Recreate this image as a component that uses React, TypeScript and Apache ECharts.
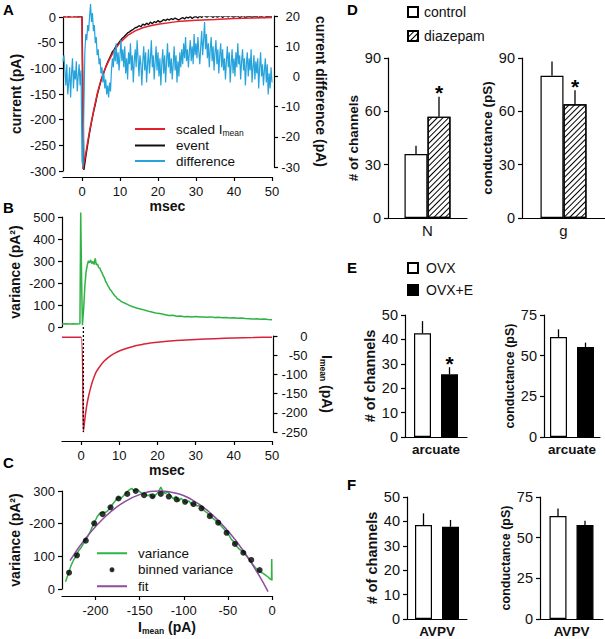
import React, { useEffect, useRef } from 'react';
import * as echarts from 'echarts';

const FONT = '"Liberation Sans", Arial, Helvetica, sans-serif';
const INK = '#111';

// ---------- Panel A ----------
const aTimeTicks = [0, 10, 20, 30, 40, 50];
const aScaledImean: number[][] = [
  [-5, 0], [0, 0], [0.25, -296], [1, -265], [1.5, -243], [2, -222], [2.5, -203], [3, -185], [3.5, -167],
  [4, -150], [4.5, -136], [5, -123], [6, -102], [7, -86], [8, -72], [9, -60], [10, -50], [12, -36],
  [14, -27], [16, -21], [18, -17], [20, -14], [25, -9], [30, -6.5], [35, -5], [40, -3], [45, -2], [50, -1],
];
const aEventStart = -5;
const aEventStep = 0.5;
const aEventValues = [
  3, 1, 4, 0, 2, 5, 1, 3, 0, 2,
  1, -298, -272, -248, -225, -205, -186, -170, -152, -138, -124, -113, -103, -92, -84, -76, -68, -63, -56, -52,
  -47, -42, -39, -35, -31, -29, -26, -24, -21, -20,
  -17, -19, -14, -16, -12, -15, -10, -13, -9, -11, -7, -10, -8, -5, -7, -4, -6, -3, -5, -2,
  -4, -6, -3, -1, -4, 0, -2, 1, -3, 0, 1, -2, 2, -1, 4, 1, 0, 3, 2, -1,
  3, 0, 1, 3, -1, 2, 2, 0, 3, 1, 0, 2, 2, -1, 1, 3, -1, 1, 2, 0,
  0, 2, 1, -1, 2, 0, -1, 1, 1, 0, 1,
];
const aDiffStart = -5;
const aDiffStep = 0.25;
const aDifferenceValues = [
  5, 7, 2, -3, 4, -6, -2, 3, -7, 1, 6, -4, 2, -1, 5, -5, 0, 4, -3, 2,
  -28, -30, -10, 8, 14, 12, 17, 15, 20, 24, 18, 21, 15, 17, 11, 13, 7, 9, 4, 6, 1, 3, -2, 1,
  -4, -1, -6, -3, -7, -2, -5, 2, 6, 3, 9, 5, 11, 4, 8, 2, 7, 12, 5, 9,
  3, 10, 1, 6, -1, 8, 4, 11, 2, 7, -2, 5, 9, 3, 12, 6, 0, 7, 4, -3,
  5, 10, 2, 8, -2, 4, 9, 1, 6, 12, 3, 7, -1, 5, 10, 2, 8, 0, 6, -3,
  4, 9, 1, 7, -2, 5, 11, 3, 8, 1, 6, -1, 4, 10, 2, 7, -2, 5, 0, 8,
  3, 9, 4, 11, 6, 13, 5, 9, 3, 8, 12, 5, 10, 4, 14, 7, 11, 6, 13, 8,
  4, 10, 15, 7, 12, 18, 9, 14, 6, 11, 3, 9, 13, 5, 10, 2, 8, 12, 4, 9,
  1, 7, 11, 3, 9, 2, 6, -1, 5, 10, 3, 8, -2, 4, 9, 1, 6, 0, 8, 3,
  11, 4, 7, -1, 5, 9, 2, 6, -3, 4, 8, 0, 6, 2, 9, -2, 3, 7, -1, 5,
  1, 6, -4, 3, 8, 0, 4, -3, 2, 6, -2, 4, -6, 1, -4, 3, -2,
];

// ---------- Panel B ----------
const bTimeTicks = [0, 10, 20, 30, 40, 50];
const bVarianceTickLabels = ['0', '100', '-200', '300', '400', '500'];
const bVariance: number[][] = [
  [-5, 14], [-4, 15], [-3, 14], [-2, 15], [-1, 14], [-0.3, 15], [-0.1, 520], [0.15, 200], [0.35, 8],
  [0.7, 90], [1.0, 190], [1.3, 250], [1.6, 280], [1.9, 300], [2.2, 292], [2.5, 305], [2.8, 288],
  [3.1, 298], [3.4, 284], [3.7, 312], [4.0, 282], [4.3, 286], [4.6, 270], [4.9, 268], [5.2, 255],
  [5.5, 246], [5.8, 232], [6.1, 224], [6.4, 208], [6.7, 200], [7.0, 188], [7.3, 180], [7.6, 170],
  [7.9, 165], [8.2, 156], [8.5, 150], [8.8, 142], [9.1, 138], [9.4, 130], [9.7, 126], [10, 124],
  [10.5, 116], [11, 112], [11.5, 108], [12, 104], [12.5, 99], [13, 96], [13.5, 92], [14, 90],
  [14.5, 86], [15, 84], [16, 80], [17, 75], [18, 70], [19, 66], [20, 62], [21, 60], [22, 56],
  [23, 52], [24, 53], [25, 49], [26, 50], [27, 47], [28, 48], [29, 46], [30, 48], [31, 45],
  [32, 46], [33, 44], [34, 46], [35, 43], [36, 44], [37, 42], [38, 43], [39, 41], [40, 42],
  [41, 40], [42, 41], [43, 39], [44, 38], [45, 36], [46, 37], [47, 35], [48, 36], [49, 34], [50, 33],
];
const bImean: number[][] = [
  [-5, -3], [0, -3], [0.6, -250], [1, -215], [1.5, -180], [2, -155], [2.5, -135], [3, -118],
  [3.5, -104], [4, -93], [5, -78], [6, -66], [7, -57], [8, -50], [9, -44], [10, -39], [12, -32],
  [14, -26], [16, -22], [18, -18], [20, -16], [25, -12], [30, -9], [35, -7], [40, -5], [45, -4], [50, -3],
];
const bDashTime = 0.6;
const bImeanMin = -250;

// ---------- Panel C ----------
const cCurrentTicks = [-200, -150, -100, -50, 0];
const cVarianceTickLabels = ['0', '100', '-200', '300'];
const cVariance: number[][] = [
  [-234, 22], [-231, 45], [-228, 70], [-225, 88], [-222, 102], [-219, 118], [-216, 128], [-213, 142],
  [-210, 155], [-207, 170], [-204, 188], [-201, 205], [-198, 222], [-195, 232], [-192, 236], [-189, 234],
  [-186, 240], [-183, 252], [-180, 262], [-177, 272], [-174, 280], [-171, 278], [-168, 286], [-165, 296],
  [-162, 303], [-159, 308], [-156, 300], [-153, 306], [-150, 298], [-147, 292], [-144, 296], [-141, 285],
  [-138, 290], [-135, 280], [-132, 288], [-129, 296], [-126, 312], [-124, 300], [-121, 292], [-118, 298],
  [-115, 286], [-112, 276], [-109, 284], [-106, 268], [-103, 278], [-100, 270], [-97, 264], [-94, 270],
  [-91, 258], [-88, 262], [-85, 254], [-82, 256], [-79, 246], [-76, 238], [-73, 232], [-70, 224],
  [-67, 216], [-64, 210], [-61, 202], [-58, 194], [-55, 185], [-52, 176], [-49, 166], [-46, 152],
  [-43, 144], [-40, 130], [-37, 122], [-34, 116], [-31, 108], [-28, 98], [-25, 88], [-22, 76],
  [-19, 66], [-16, 58], [-13, 52], [-10, 48], [-7, 42], [-4, 36], [-2, 30], [-0.6, 28], [-0.3, 92], [0, 26],
];
const cBinned: number[][] = [
  [-230, 50], [-221, 103], [-211, 148], [-201.5, 201], [-192, 229], [-183, 250], [-174, 277], [-164, 291],
  [-154.5, 300], [-145, 287], [-135.5, 284], [-126, 291], [-117, 283], [-108, 274], [-98.5, 267],
  [-89, 260], [-80, 247], [-70.5, 223], [-61, 203], [-51.5, 172], [-42, 138], [-32.5, 111], [-23.5, 89], [-14, 58],
];
const cFit: number[][] = [
  [-229, 87], [-210, 159], [-190, 219], [-170, 262], [-150, 289], [-127, 300], [-110, 294],
  [-90, 272], [-70, 233], [-50, 178], [-30, 107], [-15, 43], [-4.5, -8],
];

// ---------- Panel D ----------
const dCategoryN = ['N'];
const dCategoryG = ['g'];
const dControlMean = [36, 80];
const dControlSem = [4.7, 8];
const dDiazepamMean = [57, 64];
const dDiazepamSem = [11.2, 7.9];
const dDiazepamSig = [true, true];

// ---------- Panels E, F ----------
const eCategory = ['arcuate'];
const fCategory = ['AVPV'];
const eOvxMean = [42.5, 61.5];
const eOvxSem = [5, 4.7];
const eOvxEMean = [25.7, 55.3];
const eOvxESem = [2.9, 2.7];
const eOvxESig = [true, false];
const fOvxMean = [38.5, 63.3];
const fOvxSem = [4.8, 4.7];
const fOvxEMean = [37.8, 57.8];
const fOvxESem = [2.8, 2.6];
const fOvxESig = [false, false];

const lineStyle = { color: '#000', width: 1.2 };

function valueAxis(extra: any) {
  return {
    type: 'value',
    axisLine: { show: true, onZero: false, lineStyle },
    axisTick: { show: true, length: 4, lineStyle },
    splitLine: { show: false },
    axisLabel: { color: INK, fontSize: 13, fontFamily: FONT, margin: 7 },
    nameTextStyle: { color: INK, fontSize: 14, fontWeight: 'bold', fontFamily: FONT },
    nameLocation: 'middle',
    ...extra,
  };
}

function catAxis(gridIndex: number, data: string[], fontSize: number, bold: boolean) {
  return {
    gridIndex,
    type: 'category',
    data,
    axisLine: { show: true, lineStyle },
    axisTick: { show: false },
    splitLine: { show: false },
    axisLabel: { color: INK, fontSize, fontFamily: FONT, fontWeight: bold ? 'bold' : 'normal', margin: 5 },
  };
}

function barYAxis(gridIndex: number, max: number, interval: number, name: string, nameGap: number, nameSize: number) {
  return valueAxis({
    gridIndex,
    min: 0,
    max,
    interval,
    name,
    nameRotate: 90,
    nameGap,
    axisLabel: { color: INK, fontSize: 14.5, fontFamily: FONT, margin: 7 },
    nameTextStyle: { color: INK, fontSize: nameSize, fontWeight: 'bold', fontFamily: FONT },
  });
}

function errorSeries(axisIndex: number, means: number[], sems: number[], sig: boolean[], idx: number, offset: number) {
  return {
    type: 'custom',
    xAxisIndex: axisIndex,
    yAxisIndex: axisIndex,
    z: 5,
    silent: true,
    data: [[0, means[idx], sems[idx], sig[idx] ? 1 : 0]],
    encode: { x: 0, y: 1 },
    renderItem: (params: any, api: any) => {
      const base = api.coord([api.value(0), api.value(1)]);
      const top = api.coord([api.value(0), api.value(1) + api.value(2)]);
      const cx = base[0] + offset;
      const children: any[] = [
        { type: 'line', shape: { x1: cx, y1: base[1], x2: cx, y2: top[1] }, style: { stroke: '#000', lineWidth: 1.3 } },
      ];
      if (api.value(3)) {
        children.push({
          type: 'text',
          x: cx,
          y: top[1] - 4,
          style: { text: '*', fontSize: 21, fontWeight: 'bold', fontFamily: FONT, fill: '#000', align: 'center', verticalAlign: 'middle' },
        });
      }
      return { type: 'group', children };
    },
  };
}

function buildOption() {
  const whiteBar = { color: '#fff', borderColor: '#000', borderWidth: 1.2 };
  const blackBar = { color: '#000', borderColor: '#000', borderWidth: 1.2 };
  const hatchBar = {
    color: '#fff',
    borderColor: '#000',
    borderWidth: 1.2,
    decal: {
      symbol: 'rect',
      symbolSize: 1,
      dashArrayX: [1, 0],
      dashArrayY: [1, 3],
      rotation: -Math.PI / 4,
      color: '#000',
    },
  };
  const dW = 23;
  const efW = 17;
  const efGap = 10;

  const letters = [
    ['A', 3, 2], ['B', 3, 200], ['C', 3, 455], ['D', 347, 2], ['E', 347, 260], ['F', 347, 477],
  ].map(([t, x, y]) => ({
    type: 'text',
    id: 'letter' + t,
    x,
    y,
    style: { text: t, fontSize: 15, fontWeight: 'bold', fontFamily: FONT, fill: '#000', verticalAlign: 'top' },
  }));

  const subRich = {
    t: { fontSize: 13.5, fontFamily: FONT, color: INK, lineHeight: 16 },
    s: { fontSize: 8.5, fontFamily: FONT, color: INK, padding: [7, 0, 0, 0] },
  };
  const nameRich = {
    b: { fontSize: 14, fontWeight: 'bold', fontFamily: FONT, color: INK },
    s: { fontSize: 8.5, fontWeight: 'bold', fontFamily: FONT, color: INK, padding: [8, 0, 0, 0] },
  };
  const efBarGap = (efGap / efW) * 100 + '%';

  return {
    animation: false,
    backgroundColor: '#fff',
    textStyle: { fontFamily: FONT },
    grid: [
      { left: 63, top: 17, width: 209, height: 154 },
      { left: 63, top: 16, width: 209, height: 151 },
      { left: 62, top: 217, width: 210, height: 110 },
      { left: 62, top: 336, width: 210, height: 96 },
      { left: 62, top: 491, width: 210, height: 98 },
      { left: 388, top: 58, width: 79, height: 160 },
      { left: 522, top: 58, width: 96, height: 160 },
      { left: 405, top: 315, width: 62, height: 122 },
      { left: 544, top: 315, width: 56, height: 122 },
      { left: 407, top: 497, width: 60, height: 122 },
      { left: 540, top: 497, width: 63, height: 122 },
    ],
    xAxis: [
      valueAxis({
        gridIndex: 0, min: -5, max: 50, offset: 6, name: 'msec', nameGap: 22,
        axisTick: { show: true, length: 4, lineStyle, customValues: aTimeTicks },
        axisLabel: { color: INK, fontSize: 13, fontFamily: FONT, margin: 8, customValues: aTimeTicks },
      }),
      valueAxis({ gridIndex: 1, min: -5, max: 50, show: false }),
      valueAxis({ gridIndex: 2, min: -5, max: 50, show: false }),
      valueAxis({
        gridIndex: 3, min: -5, max: 50, offset: 9, name: 'msec', nameGap: 22,
        axisTick: { show: true, length: 4, lineStyle, customValues: bTimeTicks },
        axisLabel: { color: INK, fontSize: 13, fontFamily: FONT, margin: 8, customValues: bTimeTicks },
      }),
      valueAxis({
        gridIndex: 4, min: -238, max: 0, offset: 7, name: '{b|I}{s|mean}{b| (pA)}', nameGap: 22,
        nameTextStyle: { color: INK, fontSize: 14, fontWeight: 'bold', fontFamily: FONT, rich: nameRich },
        axisTick: { show: true, length: 4, lineStyle, customValues: cCurrentTicks },
        axisLabel: { color: INK, fontSize: 13, fontFamily: FONT, margin: 8, customValues: cCurrentTicks },
      }),
      catAxis(5, dCategoryN, 15, false),
      catAxis(6, dCategoryG, 15, false),
      catAxis(7, eCategory, 13.5, true),
      catAxis(8, eCategory, 13.5, true),
      catAxis(9, fCategory, 13.5, true),
      catAxis(10, fCategory, 13.5, true),
    ],
    yAxis: [
      valueAxis({ gridIndex: 0, min: -300, max: 0, interval: 50, name: 'current (pA)', nameRotate: 90, nameGap: 40 }),
      valueAxis({
        gridIndex: 1, position: 'right', offset: 2, min: -30, max: 20, interval: 10,
        name: 'current difference (pA)', nameRotate: -90, nameGap: 40,
        axisLabel: { color: INK, fontSize: 13, fontFamily: FONT, margin: 26, align: 'right' },
      }),
      valueAxis({
        gridIndex: 2, min: 0, max: 500, interval: 100, name: 'variance (pA²)', nameRotate: 90, nameGap: 40,
        axisLabel: {
          color: INK, fontSize: 13, fontFamily: FONT, margin: 7,
          formatter: (v: number) => bVarianceTickLabels[Math.round(v / 100)] ?? String(v),
        },
      }),
      valueAxis({
        gridIndex: 3, position: 'right', offset: 1.5, min: -250, max: 0, interval: 50,
        name: '{b|I}{s|mean}{b| (pA)}', nameRotate: -90, nameGap: 45,
        nameTextStyle: { color: INK, fontSize: 14, fontWeight: 'bold', fontFamily: FONT, rich: nameRich },
        axisLabel: { color: INK, fontSize: 13, fontFamily: FONT, margin: 34, align: 'right' },
      }),
      valueAxis({
        gridIndex: 4, min: 0, max: 300, interval: 100, name: 'variance (pA²)', nameRotate: 90, nameGap: 40,
        axisLabel: {
          color: INK, fontSize: 13, fontFamily: FONT, margin: 7,
          formatter: (v: number) => cVarianceTickLabels[Math.round(v / 100)] ?? String(v),
        },
      }),
      barYAxis(5, 90, 30, '# of channels', 28, 13.5),
      barYAxis(6, 90, 30, 'conductance (pS)', 24, 13.5),
      barYAxis(7, 50, 10, '# of channels', 26, 14.5),
      barYAxis(8, 75, 25, 'conductance (pS)', 28, 12.5),
      barYAxis(9, 50, 10, '# of channels', 28, 14.5),
      barYAxis(10, 75, 25, 'conductance (pS)', 24, 12.5),
    ],
    legend: [
      {
        data: ['scaled Imean', 'event', 'difference'],
        orient: 'vertical', left: 135, top: 122, padding: 0, itemGap: 1.5,
        icon: 'rect', itemWidth: 30, itemHeight: 2, selectedMode: false,
        itemStyle: { borderWidth: 0 },
        formatter: (n: string) => (n === 'scaled Imean' ? '{t|scaled I}{s|mean}' : '{t|' + n + '}'),
        textStyle: { fontSize: 13.5, fontFamily: FONT, color: INK, padding: [0, 0, 0, 6], rich: subRich },
      },
      {
        data: [
          { name: 'variance', icon: 'rect' },
          { name: 'binned variance', icon: 'circle', itemStyle: { color: '#000', borderColor: '#000', borderWidth: 3 } },
          { name: 'fit', icon: 'rect' },
        ],
        orient: 'vertical', left: 97, top: 545, padding: 0, itemGap: 0,
        itemWidth: 30, itemHeight: 2, selectedMode: false,
        itemStyle: { borderWidth: 0 },
        textStyle: { fontSize: 13.5, fontFamily: FONT, color: INK, lineHeight: 16.5, padding: [0, 0, 0, 6] },
      },
      {
        data: ['control', 'diazepam'],
        orient: 'vertical', left: 407, top: 4, padding: 0, itemGap: 8,
        icon: 'rect', itemWidth: 10, itemHeight: 10, selectedMode: false,
        textStyle: { fontSize: 14, fontFamily: FONT, color: INK, lineHeight: 16, padding: [0, 0, 0, 1] },
      },
      {
        data: ['OVX', 'OVX+E'],
        orient: 'vertical', left: 407, top: 260, padding: 0, itemGap: 6,
        icon: 'rect', itemWidth: 10, itemHeight: 10, selectedMode: false,
        textStyle: { fontSize: 14, fontFamily: FONT, color: INK, lineHeight: 16, padding: [0, 0, 0, 3] },
      },
    ],
    graphic: letters,
    series: [
      // A
      {
        name: 'event', type: 'line', xAxisIndex: 0, yAxisIndex: 0, symbol: 'none',
        data: aEventValues.map((v, i) => [aEventStart + i * aEventStep, v]),
        lineStyle: { color: '#111', width: 1.4 }, itemStyle: { color: '#111' },
      },
      {
        name: 'scaled Imean', type: 'line', xAxisIndex: 0, yAxisIndex: 0, symbol: 'none',
        data: aScaledImean, lineStyle: { color: '#e3202c', width: 1.5 }, itemStyle: { color: '#e3202c' },
      },
      {
        name: 'difference', type: 'line', xAxisIndex: 1, yAxisIndex: 1, symbol: 'none', clip: false,
        data: aDifferenceValues.map((v, i) => [aDiffStart + i * aDiffStep, v]),
        lineStyle: { color: '#27a3dc', width: 1.2 }, itemStyle: { color: '#27a3dc' },
      },
      // B
      {
        name: 'variance B', type: 'line', xAxisIndex: 2, yAxisIndex: 2, symbol: 'none', clip: false,
        data: bVariance, lineStyle: { color: '#2fb344', width: 1.5 },
      },
      {
        name: 'Imean B', type: 'line', xAxisIndex: 3, yAxisIndex: 3, symbol: 'none',
        data: bImean, smooth: 0.2, lineStyle: { color: '#d9233a', width: 1.5 },
      },
      // C
      {
        name: 'variance', type: 'line', xAxisIndex: 4, yAxisIndex: 4, symbol: 'none', clip: false,
        data: cVariance, lineStyle: { color: '#2fb344', width: 1.5 }, itemStyle: { color: '#2fb344' },
      },
      {
        name: 'fit', type: 'line', xAxisIndex: 4, yAxisIndex: 4, symbol: 'none', clip: false, smooth: true,
        data: cFit, lineStyle: { color: '#8d4c9f', width: 1.5 }, itemStyle: { color: '#8d4c9f' }, z: 3,
      },
      {
        name: 'binned variance', type: 'scatter', xAxisIndex: 4, yAxisIndex: 4, symbolSize: 6,
        data: cBinned, itemStyle: { color: '#000' }, z: 4,
      },
      // D
      { name: 'control', type: 'bar', xAxisIndex: 5, yAxisIndex: 5, barWidth: dW, barGap: '0%', data: [dControlMean[0]], itemStyle: whiteBar },
      { name: 'diazepam', type: 'bar', xAxisIndex: 5, yAxisIndex: 5, barWidth: dW, barGap: '0%', data: [dDiazepamMean[0]], itemStyle: hatchBar },
      { name: 'control', type: 'bar', xAxisIndex: 6, yAxisIndex: 6, barWidth: dW, barGap: '0%', data: [dControlMean[1]], itemStyle: whiteBar },
      { name: 'diazepam', type: 'bar', xAxisIndex: 6, yAxisIndex: 6, barWidth: dW, barGap: '0%', data: [dDiazepamMean[1]], itemStyle: hatchBar },
      errorSeries(5, dControlMean, dControlSem, [false, false], 0, -dW / 2),
      errorSeries(5, dDiazepamMean, dDiazepamSem, dDiazepamSig, 0, dW / 2),
      errorSeries(6, dControlMean, dControlSem, [false, false], 1, -dW / 2),
      errorSeries(6, dDiazepamMean, dDiazepamSem, dDiazepamSig, 1, dW / 2),
      // E
      { name: 'OVX', type: 'bar', xAxisIndex: 7, yAxisIndex: 7, barWidth: efW, barGap: efBarGap, data: [eOvxMean[0]], itemStyle: whiteBar },
      { name: 'OVX+E', type: 'bar', xAxisIndex: 7, yAxisIndex: 7, barWidth: efW, barGap: efBarGap, data: [eOvxEMean[0]], itemStyle: blackBar },
      { name: 'OVX', type: 'bar', xAxisIndex: 8, yAxisIndex: 8, barWidth: efW, barGap: efBarGap, data: [eOvxMean[1]], itemStyle: whiteBar },
      { name: 'OVX+E', type: 'bar', xAxisIndex: 8, yAxisIndex: 8, barWidth: efW, barGap: efBarGap, data: [eOvxEMean[1]], itemStyle: blackBar },
      errorSeries(7, eOvxMean, eOvxSem, [false, false], 0, -(efW + efGap) / 2),
      errorSeries(7, eOvxEMean, eOvxESem, eOvxESig, 0, (efW + efGap) / 2),
      errorSeries(8, eOvxMean, eOvxSem, [false, false], 1, -(efW + efGap) / 2),
      errorSeries(8, eOvxEMean, eOvxESem, eOvxESig, 1, (efW + efGap) / 2),
      // F
      { name: 'OVX', type: 'bar', xAxisIndex: 9, yAxisIndex: 9, barWidth: efW, barGap: efBarGap, data: [fOvxMean[0]], itemStyle: whiteBar },
      { name: 'OVX+E', type: 'bar', xAxisIndex: 9, yAxisIndex: 9, barWidth: efW, barGap: efBarGap, data: [fOvxEMean[0]], itemStyle: blackBar },
      { name: 'OVX', type: 'bar', xAxisIndex: 10, yAxisIndex: 10, barWidth: efW, barGap: efBarGap, data: [fOvxMean[1]], itemStyle: whiteBar },
      { name: 'OVX+E', type: 'bar', xAxisIndex: 10, yAxisIndex: 10, barWidth: efW, barGap: efBarGap, data: [fOvxEMean[1]], itemStyle: blackBar },
      errorSeries(9, fOvxMean, fOvxSem, [false, false], 0, -(efW + efGap) / 2),
      errorSeries(9, fOvxEMean, fOvxESem, fOvxESig, 0, (efW + efGap) / 2),
      errorSeries(10, fOvxMean, fOvxSem, [false, false], 1, -(efW + efGap) / 2),
      errorSeries(10, fOvxEMean, fOvxESem, fOvxESig, 1, (efW + efGap) / 2),
    ],
  };
}

export default function App() {
  const ref = useRef<HTMLDivElement>(null);
  useEffect(() => {
    if (!ref.current) return;
    const chart = echarts.init(ref.current, undefined, { renderer: 'svg' });
    chart.setOption(buildOption() as any);
    const p1 = chart.convertToPixel({ gridIndex: 2 } as any, [bDashTime, 0]) as number[];
    const p2 = chart.convertToPixel({ gridIndex: 3 } as any, [bDashTime, bImeanMin]) as number[];
    if (p1 && p2) {
      chart.setOption({
        graphic: {
          elements: [
            {
              type: 'line', id: 'dashB',
              shape: { x1: p1[0], y1: p1[1], x2: p2[0], y2: p2[1] },
              style: { stroke: '#000', lineWidth: 1.3, lineDash: [2, 2] },
              z: 10,
            },
          ],
        },
      } as any);
    }
    return () => chart.dispose();
  }, []);
  return (
    <div
      ref={ref}
      style={{ position: 'absolute', left: 0, top: 0, width: 605, height: 639, background: '#fff' }}
    />
  );
}
